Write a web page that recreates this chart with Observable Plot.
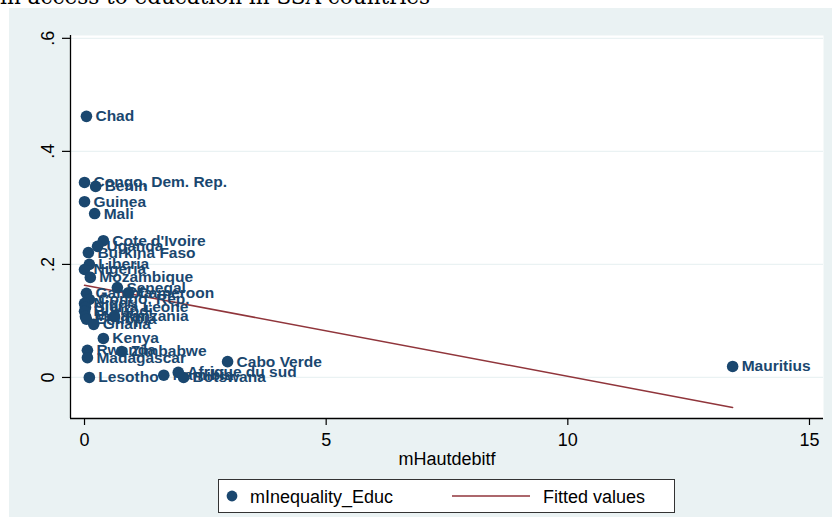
<!DOCTYPE html>
<html>
<head>
<meta charset="utf-8">
<script src="https://cdn.jsdelivr.net/npm/d3@7"></script>
<script src="https://cdn.jsdelivr.net/npm/@observablehq/plot@0.6"></script>
<style>
  html, body { margin: 0; padding: 0; background: #ffffff; }
  body { width: 832px; height: 518px; position: relative; overflow: hidden; font-family: "Liberation Sans", Arial, sans-serif; }
  #bg { position: absolute; left: 9px; top: 8px; width: 823px; height: 509px; background: #eaf2f3; }
  #title { position: absolute; left: 0; top: 0; width: 832px; height: 8px; overflow: hidden; }
  #title svg { display: block; }
  #chart { position: absolute; left: 0; top: 0; }
  #legend { position: absolute; left: 218px; top: 479px; }
</style>
</head>
<body>
<div id="bg"></div>
<div id="title"></div>
<div id="chart"></div>
<div id="legend"></div>
<script>
// ---- data ----
const titleText = "in access to education in SSA countries";
const countries = ["Chad","Congo, Dem. Rep.","Benin","Guinea","Mali","Cote d'Ivoire","Uganda","Burkina Faso","Liberia","Nigeria","Mozambique","Senegal","Gambia","Cameroon","Congo, Rep.","Niger","Sierra Leone","Burundi","Malawi","Tanzania","Ethiopia","Ghana","Kenya","Rwanda","Zimbabwe","Madagascar","Cabo Verde","Lesotho","Namibia","Afrique du sud","Botswana","Mauritius"];
const hautDebit = [0.04,0.00,0.23,0.00,0.21,0.39,0.27,0.08,0.10,0.00,0.12,0.68,0.04,0.91,0.10,0.00,0.02,0.00,0.02,0.62,0.04,0.19,0.39,0.06,0.77,0.06,2.96,0.10,1.64,1.94,2.05,13.41];
const inequality = [0.462,0.345,0.338,0.311,0.290,0.242,0.232,0.221,0.200,0.191,0.177,0.159,0.149,0.150,0.138,0.131,0.124,0.117,0.108,0.108,0.103,0.094,0.069,0.048,0.046,0.035,0.028,0.000,0.004,0.009,0.000,0.0195];
const fittedX = [0, 13.41];
const fittedY = [0.163, -0.053];
const xTicks = [0, 5, 10, 15];
const xTickLabels = ["0", "5", "10", "15"];
const yTicks = [0, 0.2, 0.4, 0.6];
const yTickLabels = ["0", ".2", ".4", ".6"];
const xTitle = "mHautdebitf";
const seriesNames = ["mInequality_Educ", "Fitted values"];

const navy = "#1a476f";
const maroon = "#90353b";

const points = countries.map((c, i) => ({name: c, x: hautDebit[i], y: inequality[i]}));
const fitted = fittedX.map((x, i) => ({x, y: fittedY[i]}));
const xDom = [-0.29, 15.29];
const yDom = [-0.0726, 0.605];

const chart = Plot.plot({
  width: 832,
  height: 518,
  marginLeft: 70,
  marginRight: 9,
  marginTop: 35,
  marginBottom: 100,
  style: {background: "transparent", fontFamily: "'Liberation Sans', Arial, sans-serif", color: "#000"},
  x: {domain: xDom, label: null},
  y: {domain: yDom, label: null},
  marks: [
    Plot.frame({fill: "white", stroke: "none"}),
    Plot.gridY(yTicks, {stroke: "#eaf2f3", strokeOpacity: 1, strokeWidth: 1.2}),
    Plot.axisX({ticks: xTicks, tickSize: 7, tickPadding: 8, fontSize: 18, tickFormat: (d) => xTickLabels[xTicks.indexOf(d)], stroke: "#000", strokeWidth: 1.2, label: null}),
    Plot.axisY({ticks: yTicks, tickSize: 8, tickFormat: () => "", stroke: "#000", strokeWidth: 1.2, label: null}),
    Plot.text(yTicks, {y: (d) => d, text: (d, i) => yTickLabels[i], frameAnchor: "left", rotate: -90, textAnchor: "middle", lineAnchor: "bottom", dx: -17, fontSize: 18, fill: "#000"}),
    Plot.text([xTitle], {frameAnchor: "bottom", text: (d) => d, dy: 46, lineAnchor: "bottom", fontSize: 18, fill: "#000"}),
    Plot.ruleX([xDom[0]], {stroke: "#000", strokeWidth: 1.3}),
    Plot.ruleY([yDom[0]], {stroke: "#000", strokeWidth: 1.3}),
    Plot.line(fitted, {x: "x", y: "y", stroke: maroon, strokeWidth: 1.5}),
    Plot.dot(points, {x: "x", y: "y", r: 5.8, fill: navy, stroke: "none"}),
    Plot.text(points, {x: "x", y: "y", text: "name", textAnchor: "start", dx: 9, fill: navy, fontSize: 15.5, fontWeight: "bold"})
  ]
});
document.getElementById("chart").appendChild(chart);

// cut-off caption text at the very top
const t = d3.select("#title").append("svg").attr("width", 832).attr("height", 8);
t.append("text").attr("x", 0).attr("y", 4)
  .attr("font-family", "'DejaVu Serif', serif").attr("font-size", 21.5).attr("fill", "#000")
  .text(titleText);

// legend
const lg = d3.select("#legend").append("svg").attr("width", 457).attr("height", 34);
lg.append("rect").attr("x", 0.5).attr("y", 0.5).attr("width", 456).attr("height", 33)
  .attr("fill", "white").attr("stroke", "#333").attr("stroke-width", 1);
lg.append("circle").attr("cx", 14).attr("cy", 17).attr("r", 5.4).attr("fill", navy);
lg.append("text").attr("x", 32).attr("y", 23.5).attr("font-size", 18).attr("fill", "#000")
  .attr("font-family", "'Liberation Sans', Arial, sans-serif").text(seriesNames[0]);
lg.append("line").attr("x1", 234).attr("x2", 312).attr("y1", 17).attr("y2", 17)
  .attr("stroke", maroon).attr("stroke-width", 1.5);
lg.append("text").attr("x", 325).attr("y", 23.5).attr("font-size", 18).attr("fill", "#000")
  .attr("font-family", "'Liberation Sans', Arial, sans-serif").text(seriesNames[1]);
</script>
</body>
</html>
